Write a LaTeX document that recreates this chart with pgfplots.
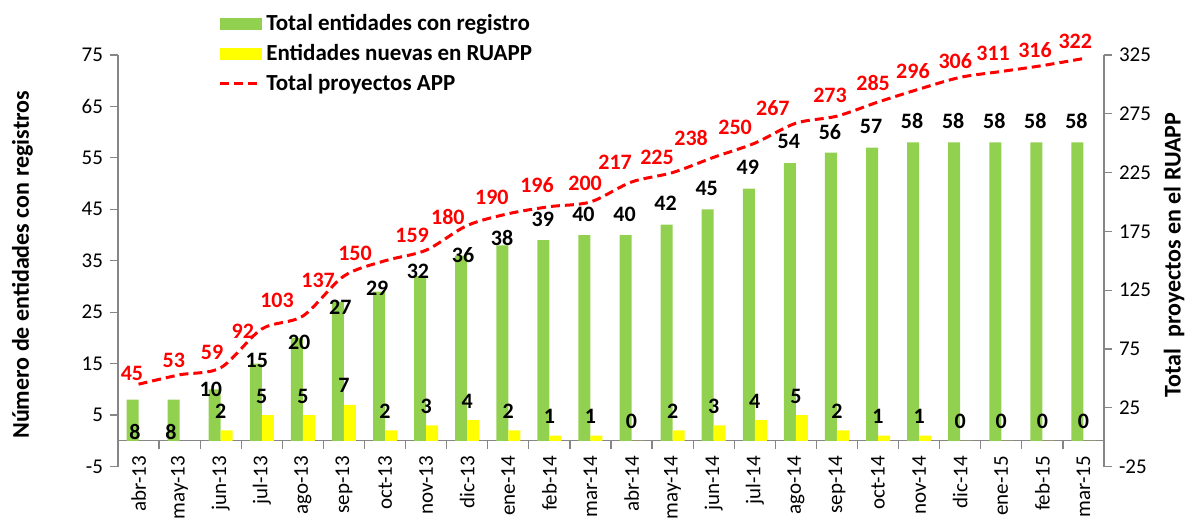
\documentclass[border=0pt]{standalone}
\usepackage{fontspec}
\setmainfont{Carlito}
\usepackage{pgfplots}
\pgfplotsset{compat=1.18}
\definecolor{barG}{HTML}{92D050}
\definecolor{barY}{HTML}{FFFF00}
\definecolor{axg}{HTML}{868686}
\definecolor{lred}{HTML}{FF0000}
\begin{document}
\begin{tikzpicture}[x=1pt,y=1pt]
\path[use as bounding box] (0,0) rectangle (594.5,260);
\pgfplotsset{
  common/.style={
    at={(59pt,26.75pt)}, anchor=south west,
    width=493pt, height=205.75pt, scale only axis,
    xmin=-0.5, xmax=23.5, clip=false,
    /pgf/number format/assume math mode=true,
    tick label style={font=\fontsize{10.5}{12}\selectfont, black},
    axis line style={axg, line width=0.6pt, -},
    tick style={axg, line width=0.6pt},
    tick align=outside,
    major tick length=4pt, minor tick length=4pt,
  }
}
\begin{axis}[common,
  ymin=-5, ymax=75, ytick={-5,5,...,75},
  axis y line*=left, axis x line*=middle,
  xtick={0,...,23},
  xticklabels={abr-13,may-13,jun-13,jul-13,ago-13,sep-13,oct-13,nov-13,dic-13,ene-14,feb-14,mar-14,abr-14,may-14,jun-14,jul-14,ago-14,sep-14,oct-14,nov-14,dic-14,ene-15,feb-15,mar-15},
  major x tick style={draw=none},
  minor xtick={-0.5,0.5,...,23.5},
  xticklabel style={rotate=90, anchor=east},
  ylabel={Número de entidades con registros},
  ylabel style={at={(axis description cs:-0.097,0.49)}, anchor=center, font=\fontsize{12}{14}\selectfont\bfseries},
  legend style={at={(axis description cs:0.1014,1.108)}, anchor=north west, draw=none, fill=none,
    font=\fontsize{11.5}{13}\selectfont\bfseries, row sep=2.5pt, inner sep=0pt,
    nodes={inner sep=1.5pt}},
  legend cell align=left,
]
\addplot[ybar, bar width=6pt, bar shift=-3pt, fill=barG, draw=none,
  legend image code/.code={\fill[barG] (0pt,-3pt) rectangle (21pt,3pt);}]
  coordinates {(0,8)(1,8)(2,10)(3,15)(4,20)(5,27)(6,29)(7,32)(8,36)(9,38)(10,39)(11,40)(12,40)(13,42)(14,45)(15,49)(16,54)(17,56)(18,57)(19,58)(20,58)(21,58)(22,58)(23,58)};
\addlegendentry{Total entidades con registro}
\addplot[ybar, bar width=6pt, bar shift=3pt, fill=barY, draw=none,
  nodes near coords,
  every node near coord/.append style={anchor=center, yshift=9.5pt, font=\fontsize{11}{13}\selectfont\bfseries, black},
  legend image code/.code={\fill[barY] (0pt,-3pt) rectangle (21pt,3pt);}]
  coordinates {(2,2)(3,5)(4,5)(5,7)(6,2)(7,3)(8,4)(9,2)(10,1)(11,1)(12,0)(13,2)(14,3)(15,4)(16,5)(17,2)(18,1)(19,1)(20,0)(21,0)(22,0)(23,0)};
\addlegendentry{Entidades nuevas en RUAPP}
\addlegendimage{legend image code/.code={\draw[lred, line width=1.5pt, dash pattern=on 4.5pt off 2.5pt] (0pt,0pt) -- (21pt,0pt);}}
\addlegendentry{Total proyectos APP}
% green bar labels (positions)
\addplot[draw=none, mark=none, forget plot, nodes near coords, point meta=explicit symbolic,
  every node near coord/.append style={anchor=center, font=\fontsize{11}{13}\selectfont\bfseries, black}]
  table[meta=lab] {
x y lab
-0.09 1.71 8
0.79 1.71 8
1.76 10.0 10
2.88 15.7 15
3.91 19.2 20
4.91 26.0 27
5.81 29.7 29
6.80 33.0 32
7.90 36.1 36
8.85 39.4 38
9.84 43.1 39
10.83 44.1 40
11.83 44.1 40
12.83 46.1 42
13.83 49.1 45
14.83 53.1 49
15.83 58.1 54
16.83 60.1 56
17.83 61.1 57
18.83 62.1 58
19.83 62.1 58
20.83 62.1 58
21.83 62.1 58
22.83 62.1 58
};
\end{axis}
\begin{axis}[common,
  ymin=-25, ymax=325, ytick={-25,25,...,325},
  axis y line*=right, axis x line=none,
  ylabel={Total\ \ proyectos en el RUAPP},
  ylabel style={at={(axis description cs:1.071,0.514)}, anchor=center, font=\fontsize{12}{14}\selectfont\bfseries},
]
\addplot[lred, line width=1.5pt, dash pattern=on 4.5pt off 2.5pt, smooth, mark=none]
  coordinates {(0,45)(1,53)(2,59)(3,92)(4,103)(5,137)(6,150)(7,159)(8,180)(9,190)(10,196)(11,200)(12,217)(13,225)(14,238)(15,250)(16,267)(17,273)(18,285)(19,296)(20,306)(21,311)(22,316)(23,322)};
\addplot[draw=none, mark=none, nodes near coords, point meta=explicit symbolic,
  every node near coord/.append style={anchor=center, font=\fontsize{11}{13}\selectfont\bfseries, lred}]
  table[meta=lab] {
x y lab
-0.16 54.5 45
0.86 65.6 53
1.79 72.4 59
2.54 90.2 92
3.37 116.6 103
4.37 133.6 137
5.27 156.6 150
6.66 171.9 159
7.53 187.2 180
8.60 204.2 190
9.70 214.4 196
10.87 216.1 200
11.60 234.0 217
12.62 238.2 225
13.45 254.4 238
14.52 263.8 250
15.44 279.9 267
16.83 291.0 273
17.88 301.2 285
18.85 311.4 296
19.88 319.9 306
20.80 326.7 311
21.82 329.3 316
22.80 336.9 322
};
\end{axis}
\end{tikzpicture}
\end{document}
